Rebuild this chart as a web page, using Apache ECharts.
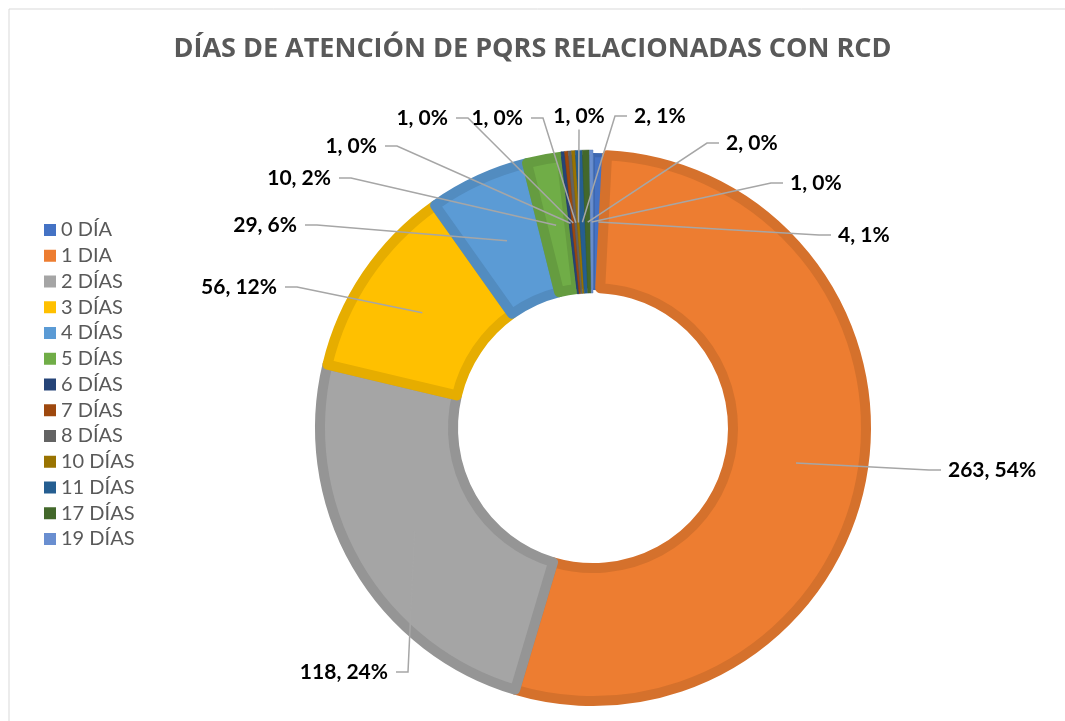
<!DOCTYPE html>
<html>
<head>
<meta charset="utf-8">
<script src="https://cdn.jsdelivr.net/npm/echarts@6/dist/echarts.min.js"></script>
<style>
  html, body { margin: 0; padding: 0; background: #fff; }
  #main { width: 1065px; height: 721px; }
</style>
</head>
<body>
<div id="main"></div>
<script>
const categories = ['0 DÍA', '1 DIA', '2 DÍAS', '3 DÍAS', '4 DÍAS', '5 DÍAS', '6 DÍAS',
  '7 DÍAS', '8 DÍAS', '10 DÍAS', '11 DÍAS', '17 DÍAS', '19 DÍAS'];
const counts = [4, 263, 118, 56, 29, 10, 1, 1, 1, 1, 2, 2, 1];

const colors = ['#4472C4', '#ED7D31', '#A5A5A5', '#FFC000', '#5B9BD5', '#70AD47', '#264478',
  '#9E480E', '#636363', '#997300', '#255E91', '#43682B', '#698ED0'];
const rimColors = ['#3D67B0', '#D5712C', '#959595', '#E6AD00', '#528CC0', '#659C40', '#223D6C',
  '#8E410D', '#595959', '#8A6800', '#215583', '#3C5E27', '#5F80BB'];

// where each label sits, and which side its leader line leaves from
const labelSpots = [
  { x: 838, y: 235, side: 'left' },
  { x: 948, y: 470, side: 'left' },
  { x: 388, y: 672, side: 'right' },
  { x: 277, y: 287, side: 'right' },
  { x: 297, y: 225, side: 'right' },
  { x: 331, y: 178, side: 'right' },
  { x: 377, y: 146, side: 'right' },
  { x: 448, y: 118, side: 'right' },
  { x: 523, y: 118, side: 'right' },
  { x: 579, y: 116, side: 'bottom' },
  { x: 634, y: 116, side: 'left' },
  { x: 726, y: 143, side: 'left' },
  { x: 790, y: 183, side: 'left' }
];

const center = [593, 428];
const ringOuter = [135, 278];   // visible edge of the ring
const rim = 10;                 // darker rim round the bigger slices
const midRing = 206;

const chart = echarts.init(document.getElementById('main'));

const isSmall = v => v < 4;

function placeLabel(params) {
  const spot = labelSpots[params.dataIndex];
  const h = params.labelRect.height;
  const p0 = params.labelLinePoints && params.labelLinePoints[0];
  let dx, dy;
  if (p0) {
    dx = p0[0] - center[0];
    dy = p0[1] - center[1];
  } else {
    const total = counts.reduce((a, b) => a + b, 0);
    let before = 0;
    for (let k = 0; k < params.dataIndex; k++) before += counts[k];
    const ang = (before + counts[params.dataIndex] / 2) / total * Math.PI * 2;
    dx = Math.sin(ang);
    dy = -Math.cos(ang);
  }
  const len = Math.sqrt(dx * dx + dy * dy) || 1;
  const ring = [center[0] + dx / len * midRing, center[1] + dy / len * midRing];
  let align, end, elbow;
  if (spot.side === 'left') {
    align = 'left';
    end = [spot.x - 7, spot.y];
    elbow = [spot.x - 19, spot.y];
  } else if (spot.side === 'right') {
    align = 'right';
    end = [spot.x + 8, spot.y];
    elbow = [spot.x + 20, spot.y];
  } else {
    align = 'center';
    end = [spot.x, spot.y + h / 2 + 3];
    elbow = [spot.x, spot.y + h / 2 + 8];
  }
  return {
    x: spot.x,
    y: spot.y,
    align: align,
    verticalAlign: 'middle',
    labelLinePoints: [ring, elbow, end]
  };
}

const baseSeries = {
  type: 'pie',
  center: center,
  startAngle: 90,
  clockwise: true,
  silent: true,
  emphasis: { disabled: true }
};

const option = {
  animation: false,
  graphic: [{
    type: 'rect',
    shape: { x: 9, y: 9, width: 1100, height: 800 },
    style: { fill: 'none', stroke: '#D9D9D9', lineWidth: 1 },
    silent: true
  }],
  title: {
    text: 'DÍAS DE ATENCIÓN DE PQRS RELACIONADAS CON RCD',
    left: 'center',
    top: 33,
    padding: 0,
    textStyle: {
      fontFamily: 'Open Sans',
      fontWeight: 'bold',
      fontSize: 27,
      lineHeight: 32,
      color: '#595959'
    }
  },
  legend: {
    orient: 'vertical',
    left: 39,
    top: 214,
    itemWidth: 12,
    itemHeight: 12,
    itemGap: 3.75,
    icon: 'rect',
    selectedMode: false,
    data: categories,
    itemStyle: { borderWidth: 0 },
    textStyle: {
      fontFamily: 'Lato',
      fontSize: 20,
      lineHeight: 22,
      color: '#595959'
    }
  },
  series: [
    Object.assign({}, baseSeries, {
      // the bigger slices, drawn inset so their rim stroke reaches the ring edge
      z: 2,
      radius: [ringOuter[0] + rim / 2, ringOuter[1] - rim / 2],
      label: { show: false },
      labelLine: { show: false },
      data: categories.map((name, i) => ({
        name: name,
        value: counts[i],
        itemStyle: {
          color: colors[i],
          borderColor: rimColors[i],
          borderWidth: counts[i] >= 10 ? rim : (isSmall(counts[i]) ? 0.5 : 4)
        }
      }))
    }),
    Object.assign({}, baseSeries, {
      // thin slices over the full ring depth
      z: 2.5,
      radius: ringOuter,
      label: { show: false },
      labelLine: { show: false },
      data: categories.map((name, i) => ({
        name: name,
        value: counts[i],
        itemStyle: {
          color: isSmall(counts[i]) ? colors[i] : 'rgba(0,0,0,0)',
          borderColor: rimColors[i],
          borderWidth: isSmall(counts[i]) ? 0.5 : 0
        }
      }))
    }),
    Object.assign({}, baseSeries, {
      // invisible copy carrying labels and leader lines above the slices
      z: 3,
      radius: ringOuter,
      percentPrecision: 0,
      avoidLabelOverlap: false,
      itemStyle: { color: 'rgba(0,0,0,0)', borderWidth: 0 },
      data: categories.map((name, i) => ({ name: name, value: counts[i] })),
      label: {
        show: true,
        position: 'outside',
        formatter: '{c}, {d}%',
        fontFamily: 'Lato',
        fontWeight: 'bold',
        fontSize: 21,
        color: '#000'
      },
      labelLine: {
        show: true,
        length: 10,
        length2: 10,
        lineStyle: { color: '#A6A6A6', width: 1.5 }
      },
      labelLayout: placeLabel
    })
  ]
};

chart.setOption(option);
</script>
</body>
</html>
